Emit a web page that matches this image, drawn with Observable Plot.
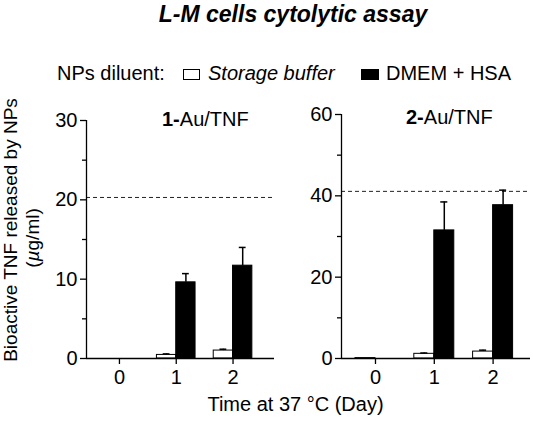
<!DOCTYPE html>
<html>
<head>
<meta charset="utf-8">
<script src="https://cdn.jsdelivr.net/npm/d3@7"></script>
<script src="https://cdn.jsdelivr.net/npm/@observablehq/plot@0.6"></script>
<style>
  html, body { margin: 0; padding: 0; background: white; }
  #chart { position: relative; width: 533px; height: 421px; overflow: hidden; background: white; }
  #chart svg { position: absolute; left: 0; top: 0; max-width: none !important; }
</style>
</head>
<body>
<div id="chart"></div>
<script>
// ---- data ----
const days = [0, 1, 2];
const dayTicks = [0, 1, 2];

const panel1Title = ["1-", "Au/TNF"];
const panel1Storage = [0, 0.45, 1.0];
const panel1StorageErr = [0, 0.13, 0.17];
const panel1Dmem = [0, 9.6, 11.7];
const panel1DmemErr = [0, 1.1, 2.3];
const panel1Reference = 20.3;
const panel1MajorTicks = [0, 10, 20, 30];
const panel1MinorTicks = [5, 15, 25];

const panel2Title = ["2-", "Au/TNF"];
const panel2Storage = [0.1, 1.15, 1.7];
const panel2StorageErr = [0, 0.2, 0.35];
const panel2Dmem = [0, 31.5, 37.7];
const panel2DmemErr = [0, 7.0, 3.7];
const panel2Reference = 41.1;
const panel2MajorTicks = [0, 20, 40, 60];
const panel2MinorTicks = [10, 30, 50];

const titleText = "L-M cells cytolytic assay";
const legendLabel = "NPs diluent:";
const seriesNames = ["Storage buffer", "DMEM + HSA"];
const yLabelLines = ["Bioactive TNF released by NPs", ["(", "\u00b5", "g/ml)"]];
const xLabelText = "Time at 37 \u00b0C (Day)";

const FONT = "'Liberation Sans', Arial, Helvetica, sans-serif";
const W = 533, H = 421;
const BAR = 0.34;   // bar width in day units
const CAP = 0.06;   // half cap width in day units

function buildRows(storage, storageErr, dmem, dmemErr) {
  const rows = [];
  days.forEach((d, i) => {
    rows.push({day: d, series: seriesNames[0], x1: d - BAR, x2: d, v: storage[i], e: storageErr[i]});
    rows.push({day: d, series: seriesNames[1], x1: d, x2: d + BAR, v: dmem[i], e: dmemErr[i]});
  });
  return rows;
}

function panel(cfg) {
  const rows = buildRows(cfg.storage, cfg.storageErr, cfg.dmem, cfg.dmemErr);
  const errRows = rows.filter(r => r.e > 0);
  return Plot.plot({
    width: W, height: H,
    marginLeft: cfg.left, marginRight: W - cfg.right,
    marginTop: cfg.top, marginBottom: H - 358,
    style: {fontFamily: FONT, fontSize: "20px", color: "black", background: "transparent", overflow: "visible"},
    x: {domain: cfg.xdomain, axis: null},
    y: {domain: [0, cfg.ymax], axis: null},
    marks: [
      Plot.ruleY([cfg.reference], {stroke: "#222", strokeWidth: 1, strokeDasharray: "4,3"}),
      Plot.rect(rows, {x1: "x1", x2: "x2", y1: 0, y2: "v",
        fill: d => d.series === seriesNames[0] ? "white" : "black", stroke: "black", strokeWidth: 1}),
      Plot.ruleX(errRows, {x: d => (d.x1 + d.x2) / 2, y1: "v", y2: d => d.v + d.e, stroke: "black", strokeWidth: 1.5}),
      Plot.ruleY(errRows, {y: d => d.v + d.e, x1: d => (d.x1 + d.x2) / 2 - CAP, x2: d => (d.x1 + d.x2) / 2 + CAP, stroke: "black", strokeWidth: 1.5}),
      Plot.ruleX([cfg.xdomain[0]], {y1: 0, y2: cfg.ymax, stroke: "black", strokeWidth: 1.3}),
      Plot.ruleY([0], {stroke: "black", strokeWidth: 1.3}),
      Plot.axisY({ticks: cfg.major, tickSize: 6, tickPadding: 3, tickFormat: d3.format("d"), label: null, anchor: "left", fontSize: 20, strokeWidth: 1.3}),
      Plot.axisY({ticks: cfg.minor, tickSize: 4, tickFormat: () => "", label: null, anchor: "left", strokeWidth: 1.3}),
      Plot.axisX({ticks: dayTicks, tickSize: 6, tickPadding: 5, tickFormat: d3.format("d"), label: null, anchor: "bottom", fontSize: 20, strokeWidth: 1.3})
    ]
  });
}

const chart = document.getElementById("chart");
chart.appendChild(panel({
  left: 86, right: 274, top: 120, ymax: 30, xdomain: [-0.58, 2.73],
  storage: panel1Storage, storageErr: panel1StorageErr, dmem: panel1Dmem, dmemErr: panel1DmemErr,
  reference: panel1Reference, major: panel1MajorTicks, minor: panel1MinorTicks
}));
chart.appendChild(panel({
  left: 341, right: 530, top: 114, ymax: 60, xdomain: [-0.578, 2.636],
  storage: panel2Storage, storageErr: panel2StorageErr, dmem: panel2Dmem, dmemErr: panel2DmemErr,
  reference: panel2Reference, major: panel2MajorTicks, minor: panel2MinorTicks
}));

// ---- text overlay: title, legend, panel titles, axis labels ----
const svg = d3.select(chart).append("svg")
  .attr("width", W).attr("height", H)
  .style("font-family", FONT).style("font-size", "20px");

svg.append("text").attr("x", 293).attr("y", 22).attr("text-anchor", "middle")
  .style("font-size", "23px").style("font-weight", "bold").style("font-style", "italic")
  .text(titleText);

svg.append("text").attr("x", 57).attr("y", 80).text(legendLabel);
svg.append("rect").attr("x", 183.5).attr("y", 69.5).attr("width", 16).attr("height", 10)
  .attr("fill", "white").attr("stroke", "black").attr("stroke-width", 1);
svg.append("text").attr("x", 208).attr("y", 80).style("font-style", "italic").text(seriesNames[0]);
svg.append("rect").attr("x", 361).attr("y", 69).attr("width", 18).attr("height", 11).attr("fill", "black");
svg.append("text").attr("x", 386).attr("y", 80).text(seriesNames[1]);

function panelTitle(x, y, parts) {
  const t = svg.append("text").attr("x", x).attr("y", y);
  t.append("tspan").style("font-weight", "bold").text(parts[0]);
  t.append("tspan").text(parts[1]);
}
panelTitle(162, 126, panel1Title);
panelTitle(406, 124, panel2Title);

svg.append("text").attr("transform", "translate(17,230) rotate(-90)").attr("text-anchor", "middle")
  .style("font-size", "19px").text(yLabelLines[0]);
const l2 = svg.append("text").attr("transform", "translate(39,238) rotate(-90)").attr("text-anchor", "middle")
  .style("font-size", "19px");
l2.append("tspan").text(yLabelLines[1][0]);
l2.append("tspan").style("font-style", "italic").text(yLabelLines[1][1]);
l2.append("tspan").text(yLabelLines[1][2]);

svg.append("text").attr("x", 295.5).attr("y", 411).attr("text-anchor", "middle").text(xLabelText);
</script>
</body>
</html>
